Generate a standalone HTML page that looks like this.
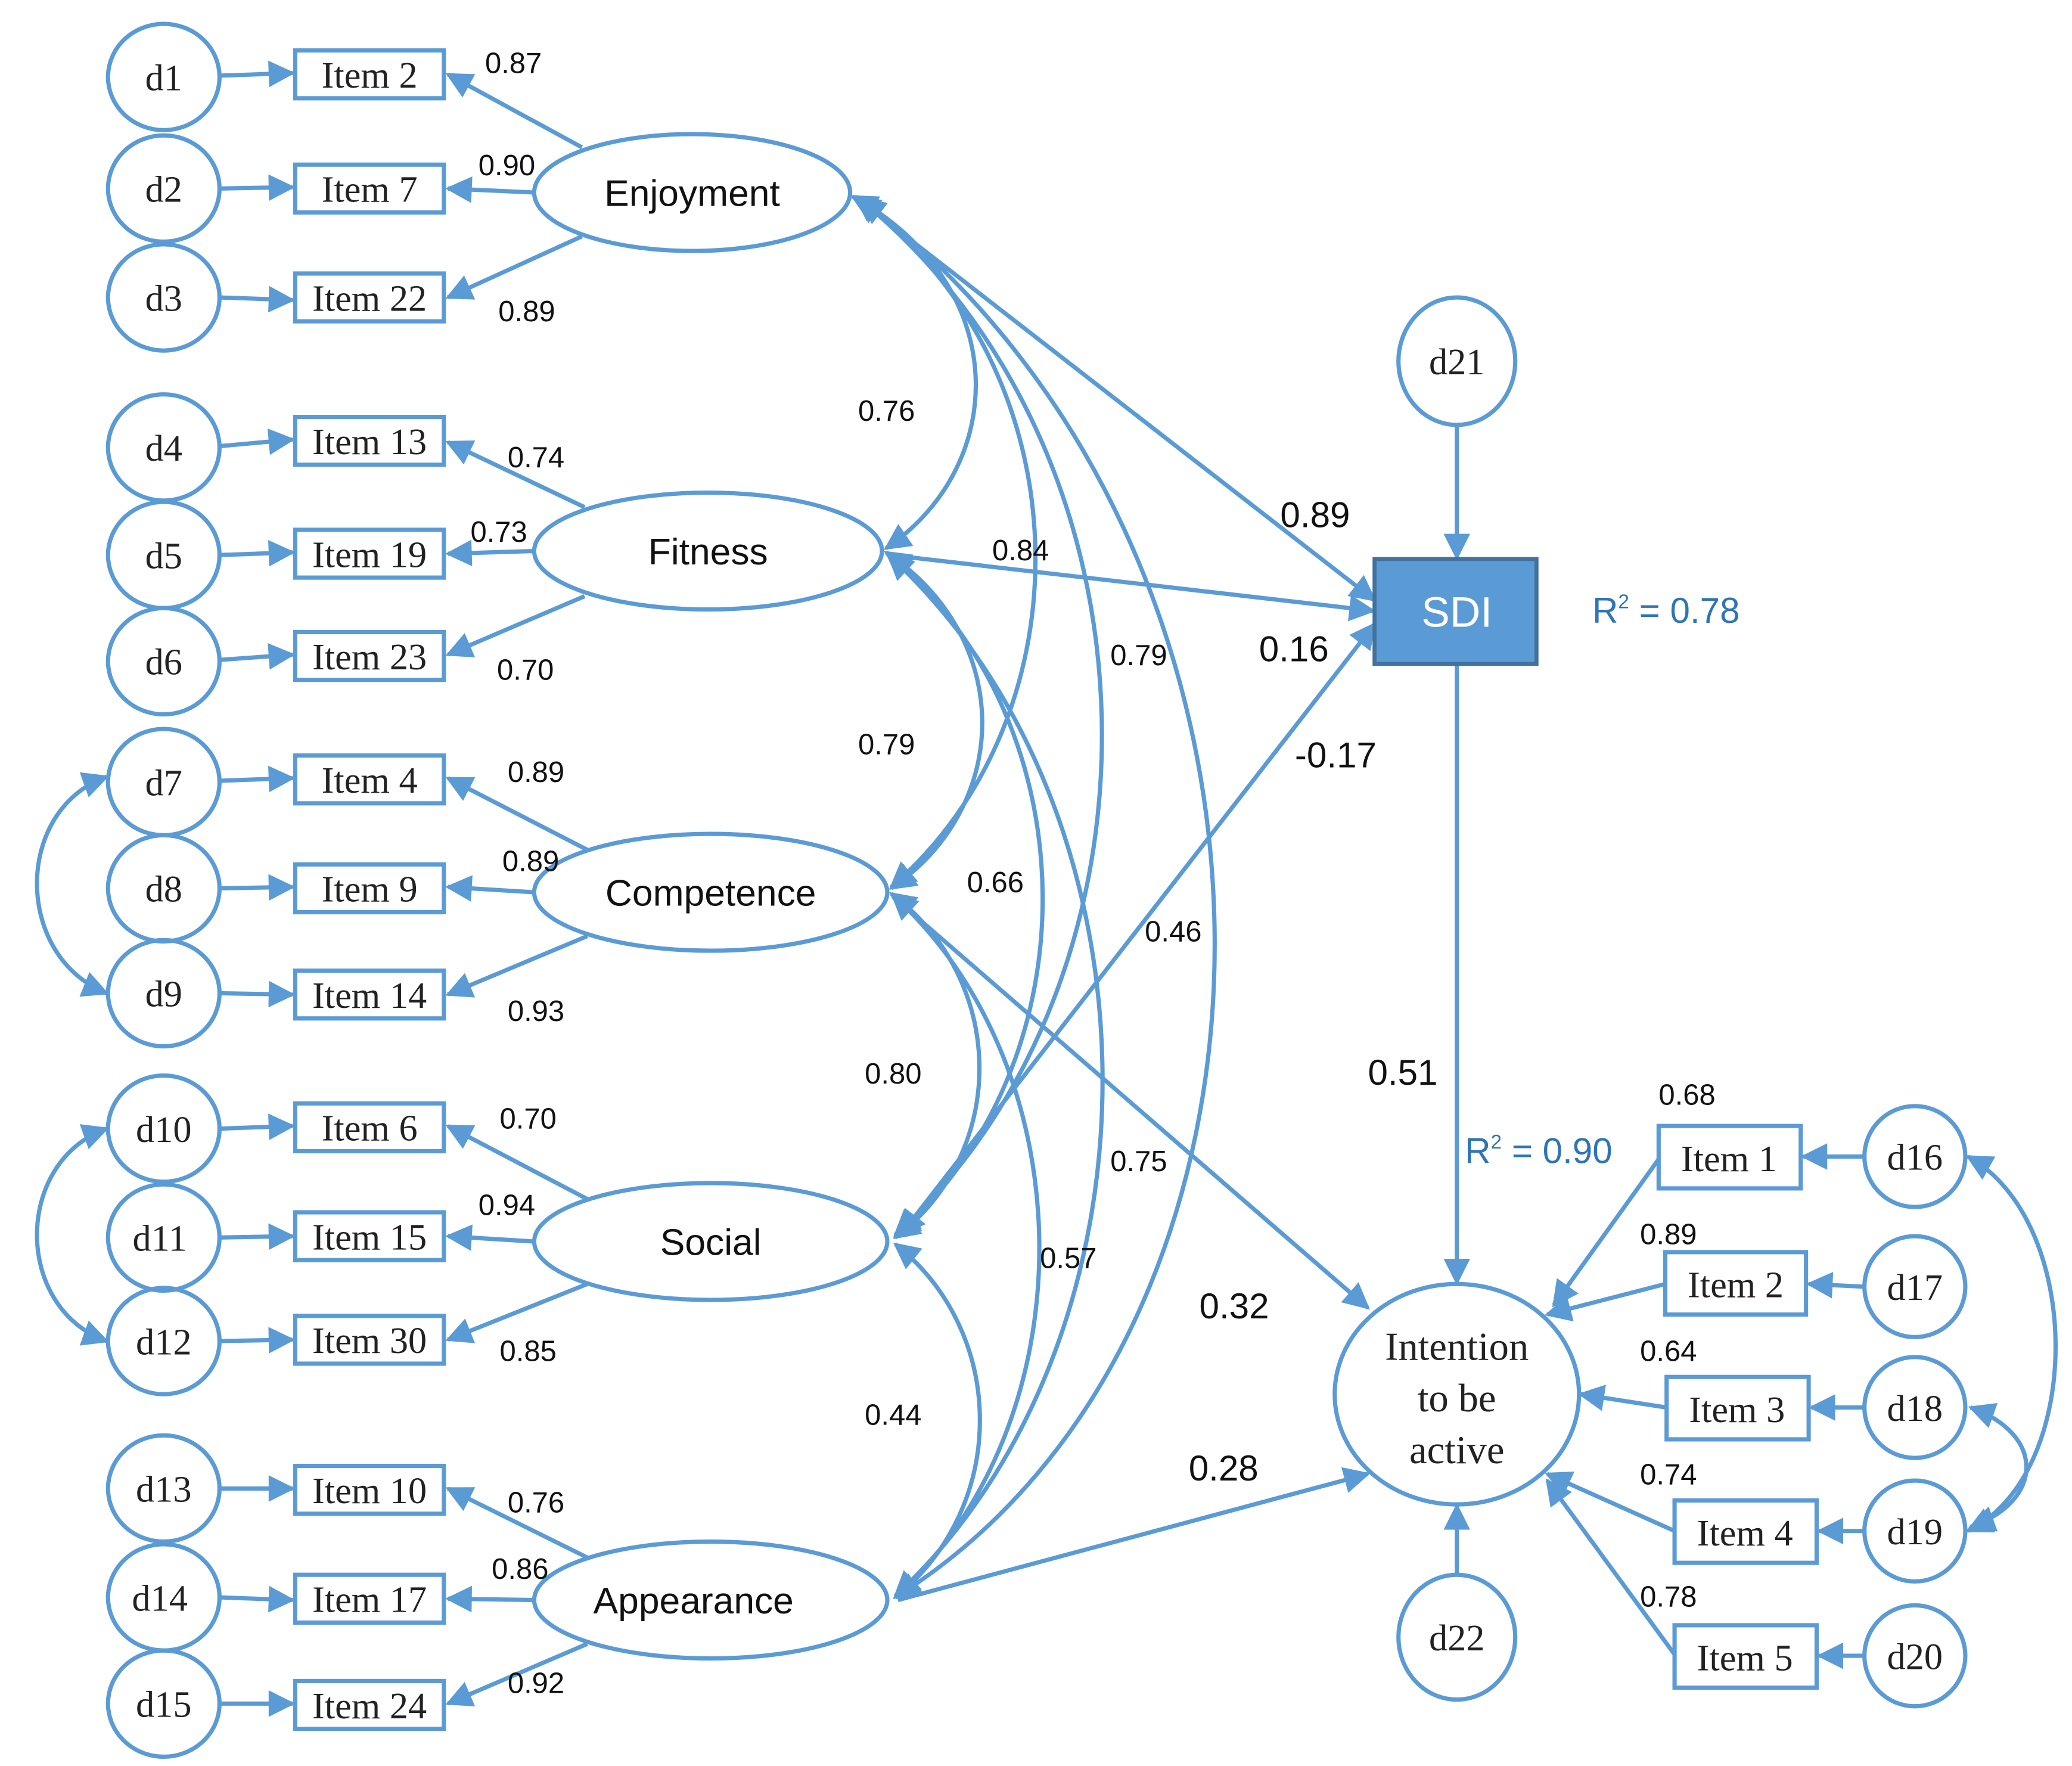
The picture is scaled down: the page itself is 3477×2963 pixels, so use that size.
<!DOCTYPE html>
<html><head><meta charset="utf-8"><style>html,body{margin:0;padding:0;background:#fff}svg{display:block}</style></head>
<body>
<svg width="3477" height="2963" viewBox="0 0 1560 1330" xmlns="http://www.w3.org/2000/svg">
<defs>
<marker id="a" viewBox="0 0 10 10" refX="9" refY="5" markerWidth="7" markerHeight="7" markerUnits="userSpaceOnUse" orient="auto-start-reverse">
<path d="M0,0 L10,5 L0,10 z" fill="#5b9bd5"/></marker>
<marker id="b" viewBox="0 0 10 10" refX="9" refY="5" markerWidth="22" markerHeight="20" markerUnits="userSpaceOnUse" orient="auto-start-reverse">
<path d="M0,0 L10,5 L0,10 z" fill="#5b9bd5"/></marker>
</defs>
<g fill="none" stroke="#5b9bd5" stroke-width="3.2">
<!-- d circles -->
<g id="dc">
<ellipse cx="123" cy="58" rx="42" ry="40"/><ellipse cx="123" cy="142" rx="42" ry="40"/><ellipse cx="123" cy="224" rx="42" ry="40"/>
<ellipse cx="123" cy="337" rx="42" ry="40"/><ellipse cx="123" cy="418" rx="42" ry="40"/><ellipse cx="123" cy="498" rx="42" ry="40"/>
<ellipse cx="123" cy="589" rx="42" ry="40"/><ellipse cx="123" cy="669" rx="42" ry="40"/><ellipse cx="123" cy="748" rx="42" ry="40"/>
<ellipse cx="123" cy="850" rx="42" ry="40"/><ellipse cx="123" cy="932" rx="42" ry="40"/><ellipse cx="123" cy="1010" rx="42" ry="40"/>
<ellipse cx="123" cy="1121" rx="42" ry="40"/><ellipse cx="123" cy="1203" rx="42" ry="40"/><ellipse cx="123" cy="1283" rx="42" ry="40"/>
</g>
<!-- item boxes -->
<rect x="222" y="38" width="112" height="36"/><rect x="222" y="124" width="112" height="36"/><rect x="222" y="206" width="112" height="36"/>
<rect x="222" y="314" width="112" height="36"/><rect x="222" y="399" width="112" height="36"/><rect x="222" y="476" width="112" height="36"/>
<rect x="222" y="569" width="112" height="36"/><rect x="222" y="651" width="112" height="36"/><rect x="222" y="731" width="112" height="36"/>
<rect x="222" y="831" width="112" height="36"/><rect x="222" y="913" width="112" height="36"/><rect x="222" y="991" width="112" height="36"/>
<rect x="222" y="1104" width="112" height="36"/><rect x="222" y="1186" width="112" height="36"/><rect x="222" y="1266" width="112" height="36"/>
<!-- d -> item arrows -->
<g marker-end="url(#b)">
<path d="M165 57 L220 55"/><path d="M165 142 L220 141"/><path d="M165 224 L220 226"/>
<path d="M165 336 L220 331"/><path d="M165 418 L220 416"/><path d="M165 497 L220 493"/>
<path d="M165 588 L220 586"/><path d="M165 669 L220 668"/><path d="M165 748 L220 749"/>
<path d="M165 850 L220 848"/><path d="M165 932 L220 931"/><path d="M165 1010 L220 1009"/>
<path d="M165 1121 L220 1121"/><path d="M165 1203 L220 1205"/><path d="M165 1283 L220 1283"/>
</g>
<!-- latent ellipses -->
<ellipse cx="521" cy="145" rx="119" ry="44"/>
<ellipse cx="533" cy="415" rx="131" ry="44"/>
<ellipse cx="535" cy="672" rx="133" ry="44"/>
<ellipse cx="535" cy="935" rx="133" ry="44"/>
<ellipse cx="535" cy="1205" rx="133" ry="44"/>
<!-- loadings -->
<g marker-end="url(#b)">
<path d="M438 111 L337 56"/><path d="M402 145 L337 142"/><path d="M438 178 L337 224"/>
<path d="M440 382 L337 333"/><path d="M402 415 L337 417"/><path d="M440 449 L337 493"/>
<path d="M442 640 L337 586"/><path d="M402 672 L337 668"/><path d="M442 705 L337 749"/>
<path d="M442 903 L337 848"/><path d="M402 935 L337 931"/><path d="M442 967 L337 1009"/>
<path d="M442 1173 L337 1121"/><path d="M402 1205 L337 1204"/><path d="M442 1238 L337 1283"/>
</g>
<!-- correlations among latents -->
<g marker-start="url(#b)" marker-end="url(#b)">
<path d="M642 148 C761 214 761 349 667 413"/>
<path d="M644 148 C820 278 820 540 671 668"/>
<path d="M646 149 C886 344 886 737 674 930"/>
<path d="M648 150 C999 414 999 1000 674 1203"/>
<path d="M667 416 C763 480 763 606 671 669"/>
<path d="M668 417 C823 546 823 802 674 931"/>
<path d="M669 418 C883 615 883 1008 674 1202"/>
<path d="M671 673 C759 739 759 868 674 932"/>
<path d="M672 674 C819 807 819 1072 674 1203"/>
<path d="M674 937 C759 1004 759 1135 674 1203"/>
<!-- left error correlations -->
<path d="M80 585 C10 610 10 720 80 748"/>
<path d="M80 850 C10 875 10 985 80 1010"/>
<path d="M1482 871 C1570 920 1570 1110 1482 1153"/>
<path d="M1484 1060 C1540 1080 1540 1130 1484 1150"/>
</g>
<!-- structural paths -->
<g marker-end="url(#b)">
<path d="M646 150 L1035 452"/>
<path d="M670 418 L1034 460"/>
<path d="M672 675 L1030 985"/>
<path d="M676 1205 L1030 1110"/>
<path d="M1097 320 L1097 420"/>
<path d="M1097 500 L1097 966"/>
<path d="M1097 1185 L1097 1134"/>
<path d="M1249 873 L1170 983"/><path d="M1254 967 L1165 990"/><path d="M1255 1060 L1190 1050"/>
<path d="M1261 1153 L1165 1110"/><path d="M1261 1246 L1165 1115"/>
<path d="M1404 871 L1358 871"/><path d="M1404 969 L1362 967"/><path d="M1404 1060 L1364 1060"/>
<path d="M1404 1153 L1370 1153"/><path d="M1404 1247 L1370 1247"/>
</g>
<path d="M678 930 L1035 470" marker-start="url(#b)" marker-end="url(#b)"/>
<!-- right side shapes -->
<ellipse cx="1097" cy="272" rx="44" ry="48"/>
<ellipse cx="1097" cy="1050" rx="92" ry="83"/>
<ellipse cx="1097" cy="1233" rx="44" ry="47"/>
<rect x="1249" y="848" width="107" height="47"/><rect x="1254" y="943" width="106" height="47"/>
<rect x="1255" y="1037" width="107" height="47"/><rect x="1261" y="1130" width="107" height="47"/>
<rect x="1261" y="1224" width="107" height="47"/>
<ellipse cx="1442" cy="871" rx="38" ry="38"/><ellipse cx="1442" cy="969" rx="38" ry="38"/>
<ellipse cx="1442" cy="1060" rx="38" ry="38"/><ellipse cx="1442" cy="1153" rx="38" ry="38"/>
<ellipse cx="1442" cy="1247" rx="38" ry="38"/>
</g>
<rect x="1035" y="421" width="122" height="79" fill="#5b9bd5" stroke="#41719c" stroke-width="3"/>
<!-- text -->
<g font-family="Liberation Serif, serif" font-size="28" fill="#222" text-anchor="middle">
<text x="123" y="68">d1</text><text x="123" y="152">d2</text><text x="123" y="234">d3</text>
<text x="123" y="347">d4</text><text x="123" y="428">d5</text><text x="123" y="508">d6</text>
<text x="123" y="599">d7</text><text x="123" y="679">d8</text><text x="123" y="758">d9</text>
<text x="123" y="860">d10</text><text x="120" y="942">d11</text><text x="123" y="1020">d12</text>
<text x="123" y="1131">d13</text><text x="120" y="1213">d14</text><text x="123" y="1293">d15</text>
<text x="1097" y="282">d21</text><text x="1097" y="1243">d22</text>
<text x="1442" y="881">d16</text><text x="1442" y="979">d17</text><text x="1442" y="1070">d18</text>
<text x="1442" y="1163">d19</text><text x="1442" y="1257">d20</text>
<text x="278" y="66">Item 2</text><text x="278" y="152">Item 7</text><text x="278" y="234">Item 22</text>
<text x="278" y="342">Item 13</text><text x="278" y="427">Item 19</text><text x="278" y="504">Item 23</text>
<text x="278" y="597">Item 4</text><text x="278" y="679">Item 9</text><text x="278" y="759">Item 14</text>
<text x="278" y="859">Item 6</text><text x="278" y="941">Item 15</text><text x="278" y="1019">Item 30</text>
<text x="278" y="1132">Item 10</text><text x="278" y="1214">Item 17</text><text x="278" y="1294">Item 24</text>
<text x="1302" y="882">Item 1</text><text x="1307" y="977">Item 2</text><text x="1308" y="1071">Item 3</text>
<text x="1314" y="1164">Item 4</text><text x="1314" y="1258">Item 5</text>
<text x="1097" y="1024" font-size="30">Intention</text><text x="1097" y="1063" font-size="30">to be</text><text x="1097" y="1102" font-size="30">active</text>
</g>
<g font-family="Liberation Sans, sans-serif" font-size="28" fill="#111" text-anchor="middle">
<text x="521" y="155">Enjoyment</text><text x="533" y="425">Fitness</text><text x="535" y="682">Competence</text>
<text x="535" y="945">Social</text><text x="522" y="1215">Appearance</text>
<text x="1097" y="472" fill="#fff" font-size="32">SDI</text>
</g>
<g font-family="Liberation Sans, sans-serif" font-size="22" fill="#111">
<text x="365" y="55">0.87</text><text x="360" y="132">0.90</text><text x="375" y="242">0.89</text>
<text x="382" y="352">0.74</text><text x="354" y="408">0.73</text><text x="374" y="512">0.70</text>
<text x="382" y="589">0.89</text><text x="378" y="656">0.89</text><text x="382" y="769">0.93</text>
<text x="376" y="850">0.70</text><text x="360" y="915">0.94</text><text x="376" y="1025">0.85</text>
<text x="382" y="1139">0.76</text><text x="370" y="1189">0.86</text><text x="382" y="1275">0.92</text>
<text x="646" y="317">0.76</text><text x="646" y="568">0.79</text><text x="651" y="816">0.80</text><text x="651" y="1073">0.44</text>
<text x="747" y="422">0.84</text><text x="836" y="501">0.79</text><text x="728" y="672">0.66</text>
<text x="862" y="709">0.46</text><text x="836" y="882">0.75</text><text x="783" y="955">0.57</text>
<text x="1249" y="832">0.68</text><text x="1235" y="937">0.89</text><text x="1235" y="1025">0.64</text>
<text x="1235" y="1118">0.74</text><text x="1235" y="1210">0.78</text>
</g>
<g font-family="Liberation Sans, sans-serif" font-size="27" fill="#111">
<text x="964" y="397">0.89</text><text x="948" y="498">0.16</text><text x="975" y="578">-0.17</text>
<text x="1030" y="817">0.51</text><text x="903" y="993">0.32</text><text x="895" y="1115">0.28</text>
</g>
<g font-family="Liberation Sans, sans-serif" font-size="27" fill="#2e75b6">
<text x="1199" y="469">R<tspan font-size="15" dy="-11">2</tspan><tspan dy="11"> = 0.78</tspan></text>
<text x="1103" y="876">R<tspan font-size="15" dy="-11">2</tspan><tspan dy="11"> = 0.90</tspan></text>
</g>
</svg>
</body></html>
